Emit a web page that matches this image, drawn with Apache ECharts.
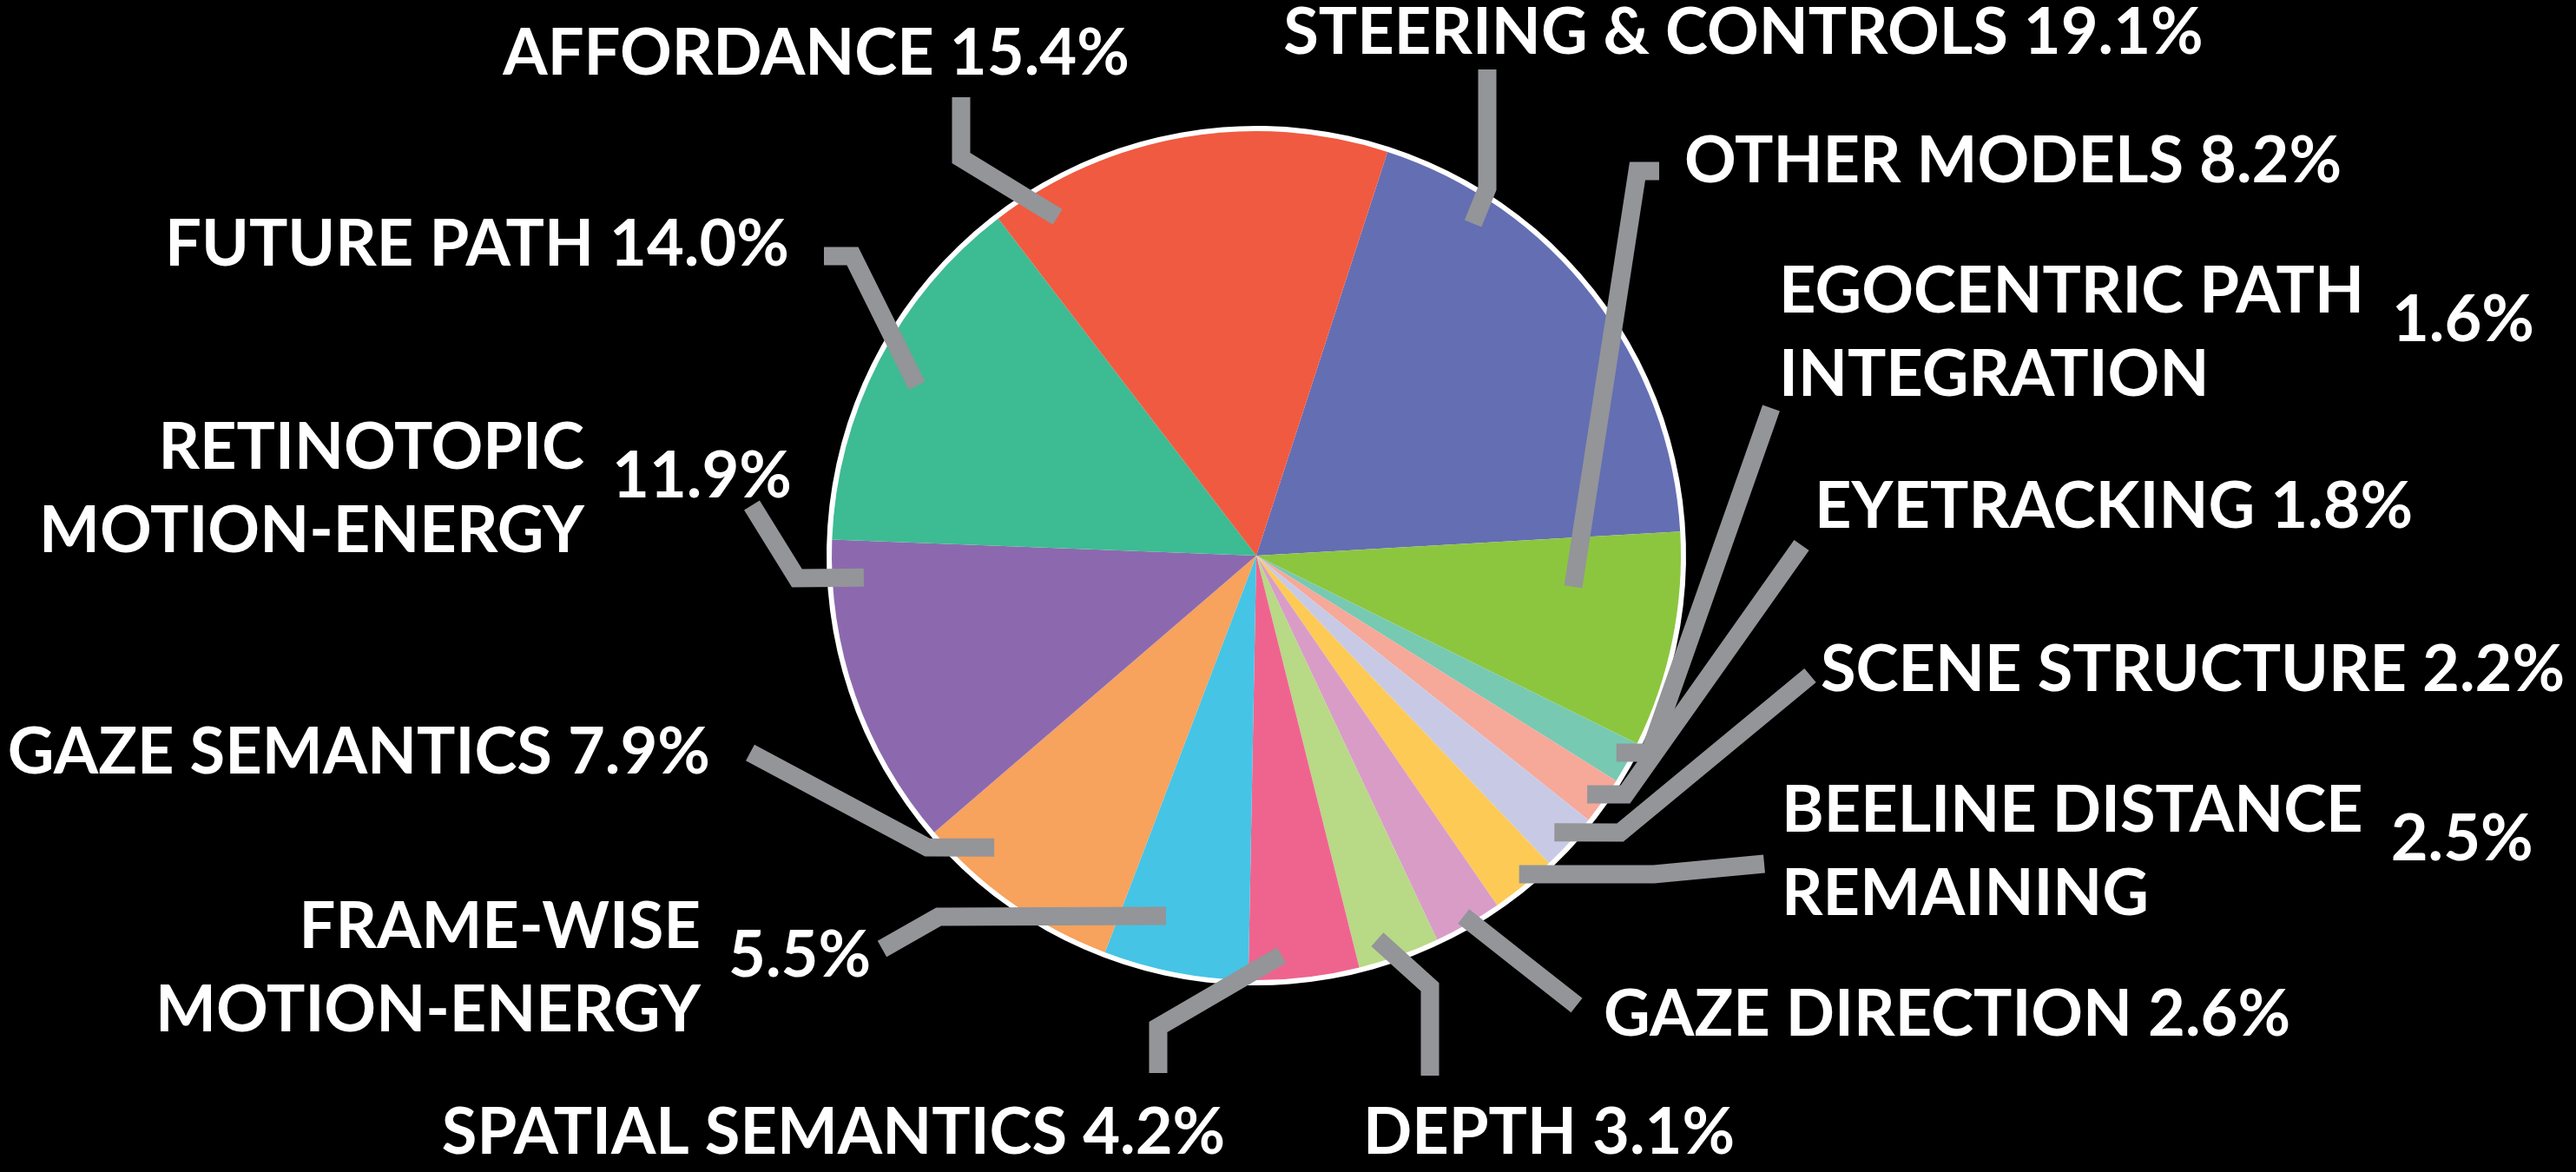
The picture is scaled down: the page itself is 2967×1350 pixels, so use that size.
<!DOCTYPE html>
<html>
<head>
<meta charset="utf-8">
<script src="https://cdn.jsdelivr.net/npm/echarts@6/dist/echarts.min.js"></script>
<style>
  html, body { margin: 0; padding: 0; background: #000; }
  #chart { width: 2967px; height: 1350px; }
</style>
</head>
<body>
<div id="chart"></div>
<script>
// Feature models and their share of the total (percent), clockwise.
const categories = [
  'STEERING & CONTROLS',
  'OTHER MODELS',
  'EGOCENTRIC PATH\nINTEGRATION',
  'EYETRACKING',
  'SCENE STRUCTURE',
  'BEELINE DISTANCE\nREMAINING',
  'GAZE DIRECTION',
  'DEPTH',
  'SPATIAL SEMANTICS',
  'FRAME-WISE\nMOTION-ENERGY',
  'GAZE SEMANTICS',
  'RETINOTOPIC\nMOTION-ENERGY',
  'FUTURE PATH',
  'AFFORDANCE'
];
const shares = [19.1, 8.2, 1.6, 1.8, 2.2, 2.5, 2.6, 3.1, 4.2, 5.5, 7.9, 11.9, 14.0, 15.4];
const sliceColors = [
  '#646EB3', '#8CC63F', '#77C9B2', '#F6A899', '#C8CAE5', '#FDCA56', '#D99CC7',
  '#B8D986', '#EF648F', '#45C4E6', '#F7A25D', '#8C69AE', '#3DBB93', '#F05A40'
];

// Geometry of the pie
const CX = 1447, CY = 640, R = 489, RIM = 6;
const START_ANGLE = 72;            // degrees, counter-clockwise from 3 o'clock
const FONT_FAMILY = 'Lato';
const FONT_SIZE = 74;
const LINE_HEIGHT = 96;
const VALUE_GAP = 32;
const VALUE_DY = -15;
const GUIDE_COLOR = '#939598';

// Label placement: text anchor, and guide line from a point inside the slice
// (fraction along the slice's arc, fraction of radius) through a bend to the text.
const placement = [
  { x: 2008, y: 38,   align: 'center', from: [0.22, 0.934], bend: [1713, 217], to: [1713, 80] },
  { x: 1940, y: 186,  align: 'left',   from: [0.30, 0.75],  bend: [1886, 197], to: [1911, 197] },
  { x: 2049, y: 384,  align: 'left',   from: [0.42, 0.967], bend: [1900, 867], to: [2040, 470] },
  { x: 2090, y: 584,  align: 'left',   from: [0.58, 0.961], bend: [1872, 915], to: [2075, 628] },
  { x: 2097, y: 772,  align: 'left',   from: [0.55, 0.958], bend: [1866, 959], to: [2085, 778] },
  { x: 2052, y: 982,  align: 'left',   from: [0.45, 0.973], bend: [1905, 1007], to: [2032, 995] },
  { x: 1847, y: 1169, align: 'left',   from: [0.50, 0.98],  bend: [1751, 1107], to: [1816, 1158] },
  { x: 1784, y: 1305, align: 'center', from: [0.69, 0.948], bend: [1647, 1137], to: [1647, 1239] },
  { x: 960,  y: 1305, align: 'center', from: [0.69, 0.943], bend: [1334, 1183], to: [1334, 1236] },
  { x: 807,  y: 1116, align: 'right',  from: [0.656, 0.875], bend: [1081, 1056], to: [1016, 1093] },
  { x: 818,  y: 867,  align: 'right',  from: [0.74, 0.924], bend: [1068, 976], to: [864, 867] },
  { x: 673,  y: 564,  align: 'right',  from: [0.875, 0.926], bend: [918, 666], to: [866, 582] },
  { x: 909,  y: 282,  align: 'right',  from: [0.485, 0.894], bend: [982, 295], to: [949, 295] },
  { x: 940,  y: 62,   align: 'center', from: [0.127, 0.925], bend: [1107, 182], to: [1107, 112] }
];

const total = shares.reduce((a, b) => a + b, 0);
const isTwoLine = i => categories[i].indexOf('\n') >= 0;
const fmtPct = v => v.toFixed(1) + '%';

// Point inside slice i, t along its arc (0..1), at rf * radius.
function slicePoint(i, t, rf) {
  let before = 0;
  for (let j = 0; j < i; j++) before += shares[j];
  const clockDeg = (90 - START_ANGLE) + (before + t * shares[i]) / total * 360;
  const a = clockDeg * Math.PI / 180;
  return [CX + R * rf * Math.sin(a), CY - R * rf * Math.cos(a)];
}

const measureCtx = document.createElement('canvas').getContext('2d');
function textWidth(s) {
  measureCtx.font = 'bold ' + FONT_SIZE + 'px ' + FONT_FAMILY;
  return measureCtx.measureText(s).width;
}

const labelText = {
  color: '#ffffff',
  fontFamily: FONT_FAMILY,
  fontWeight: 'bold',
  fontSize: FONT_SIZE,
  lineHeight: LINE_HEIGHT
};

const pieBase = {
  type: 'pie',
  center: [CX, CY],
  radius: R,
  startAngle: START_ANGLE,
  clockwise: true,
  avoidLabelOverlap: false,
  animation: false,
  silent: true,
  emphasis: { disabled: true }
};

const chart = echarts.init(document.getElementById('chart'), null, { renderer: 'canvas' });

chart.setOption({
  backgroundColor: '#000000',
  series: [
    // white rim behind the slices
    Object.assign({}, pieBase, {
      radius: R + RIM,
      z: 1,
      label: { show: false },
      labelLine: { show: false },
      data: [{ value: 1, itemStyle: { color: '#ffffff' } }]
    }),
    // slices
    Object.assign({}, pieBase, {
      z: 2,
      itemStyle: { borderWidth: 0 },
      label: { show: false },
      labelLine: { show: false },
      data: categories.map((c, i) => ({ name: c, value: shares[i], itemStyle: { color: sliceColors[i] } }))
    }),
    // names (with value on one-line labels) and guide lines
    Object.assign({}, pieBase, {
      z: 3,
      itemStyle: { color: 'rgba(0,0,0,0)', borderWidth: 0 },
      label: Object.assign({
        show: true,
        position: 'outside',
        formatter: p => isTwoLine(p.dataIndex) ? p.name : p.name + ' ' + fmtPct(p.value)
      }, labelText),
      labelLine: {
        show: true,
        length: 10,
        length2: 10,
        minTurnAngle: 0,
        lineStyle: { color: GUIDE_COLOR, width: 21, cap: 'butt', join: 'miter' }
      },
      labelLayout: function (params) {
        const i = params.dataIndex;
        const p = placement[i];
        return {
          x: p.x,
          y: p.y,
          align: p.align,
          verticalAlign: 'middle',
          labelLinePoints: [slicePoint(i, p.from[0], p.from[1]), p.bend.slice(), p.to.slice()]
        };
      },
      data: categories.map((c, i) => ({ name: c, value: shares[i] }))
    }),
    // values beside two-line names
    Object.assign({}, pieBase, {
      z: 4,
      itemStyle: { color: 'rgba(0,0,0,0)', borderWidth: 0 },
      label: Object.assign({
        show: true,
        position: 'outside',
        formatter: p => isTwoLine(p.dataIndex) ? fmtPct(p.value) : ''
      }, labelText),
      labelLine: { show: false },
      labelLayout: function (params) {
        const i = params.dataIndex;
        const p = placement[i];
        if (!isTwoLine(i)) return {};
        let x;
        if (p.align === 'left') {
          const w = Math.max.apply(null, categories[i].split('\n').map(textWidth));
          x = p.x + w + VALUE_GAP;
        } else {
          x = p.x + VALUE_GAP;
        }
        return { x: x, y: p.y + VALUE_DY, align: 'left', verticalAlign: 'middle' };
      },
      data: categories.map((c, i) => ({ name: c, value: shares[i] }))
    })
  ]
});
</script>
</body>
</html>
